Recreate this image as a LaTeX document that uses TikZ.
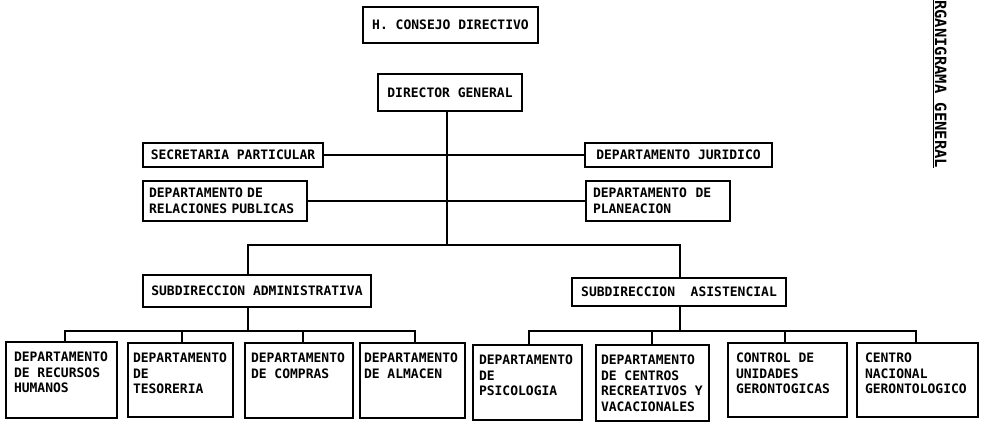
\documentclass[tikz,border=0pt]{standalone}
\usepackage{fontspec}
\setmonofont{DejaVu Sans Mono}
\newcommand\orgtxt{\ttfamily\bfseries\fontsize{13}{15.5}\selectfont}
\newcommand\orgtitle{\ttfamily\bfseries\fontsize{15.5}{18}\selectfont}
\newcommand\lowbox[3]{\parbox[c][#2][t]{#1}{\raggedright #3}}
\tikzset{
  orgbox/.style={draw, line width=1.6pt, inner sep=0pt, font=\orgtxt},
  link/.style={line width=1.5pt},
}
\begin{document}
\begin{tikzpicture}[x=1pt,y=-1pt]
\fill[white] (0,0) rectangle (984,423);
\useasboundingbox (0,0) rectangle (984,423);

% top
\node[orgbox, minimum width=175pt, minimum height=36pt] (consejo) at (450.5,25) {H. CONSEJO DIRECTIVO};
\node[orgbox, minimum width=144pt, minimum height=37pt] (director) at (450,92.5) {DIRECTOR GENERAL};

% staff
\node[orgbox, minimum width=180pt, minimum height=24pt] (secretaria) at (233,155) {SECRETARIA PARTICULAR};
\node[orgbox, minimum width=187pt, minimum height=24pt] (juridico) at (678.5,155) {DEPARTAMENTO JURIDICO};
\node[orgbox, minimum width=164pt, minimum height=40pt, text width=152pt, align=left] (relaciones) at (225,201) {DEPARTAMENTO DE\\RELACIONES PUBLICAS};
\node[orgbox, minimum width=144pt, minimum height=40pt, text width=130pt, align=left] (planeacion) at (658,201) {DEPARTAMENTO\ \ DE\\PLANEACION};

% subdirecciones
\node[orgbox, minimum width=228pt, minimum height=32pt] (subadm) at (257,291) {SUBDIRECCION ADMINISTRATIVA};
\node[orgbox, minimum width=214pt, minimum height=28pt] (subasi) at (679,292) {SUBDIRECCION\ \ ASISTENCIAL};

% departments
\node[orgbox, minimum width=111pt, minimum height=76pt] (rh) at (61.5,380) {\lowbox{95pt}{56pt}{DEPARTAMENTO\\DE RECURSOS\\HUMANOS}};
\node[orgbox, minimum width=105pt, minimum height=74pt] (teso) at (180.5,380) {\lowbox{95pt}{54pt}{DEPARTAMENTO\\DE\\TESORERIA}};
\node[orgbox, minimum width=108pt, minimum height=75pt] (compras) at (299,380.5) {\lowbox{96pt}{55pt}{DEPARTAMENTO\\DE COMPRAS}};
\node[orgbox, minimum width=105pt, minimum height=75pt] (almacen) at (412.5,380.5) {\lowbox{97pt}{55pt}{DEPARTAMENTO\\DE ALMACEN}};
\node[orgbox, minimum width=109pt, minimum height=75pt] (psico) at (527.5,382.5) {\lowbox{97pt}{55pt}{DEPARTAMENTO\\DE\\PSICOLOGIA}};
\node[orgbox, minimum width=113pt, minimum height=76pt] (centros) at (652.5,383) {\lowbox{103pt}{56pt}{DEPARTAMENTO\\DE CENTROS\\RECREATIVOS Y\\VACACIONALES}};
\node[orgbox, minimum width=119pt, minimum height=74pt] (control) at (787.5,380) {\lowbox{103pt}{54pt}{CONTROL DE\\UNIDADES\\GERONTOGICAS}};
\node[orgbox, minimum width=121pt, minimum height=74pt] (nacional) at (917.5,380) {\lowbox{105pt}{54pt}{CENTRO\\NACIONAL\\GERONTOLOGICO}};

% title
\node[rotate=-90, anchor=base, inner sep=0pt, font=\orgtitle] (title) at (935,79.5) {\underline{ORGANIGRAMA GENERAL}};

% connectors
\coordinate (hub) at (447,245);
\coordinate (la) at (248,245);
\coordinate (ra) at (680,245);
\coordinate (lb) at (248,331);
\coordinate (rb) at (680,331);
\coordinate (d1) at (65,331);
\coordinate (d2) at (182,331);
\coordinate (d3) at (303,331);
\coordinate (d4) at (415,331);
\coordinate (d5) at (529,331);
\coordinate (d6) at (652,331);
\coordinate (d7) at (785,331);
\coordinate (d8) at (916,331);

\draw[link] (director.south -| hub) -- (hub);
\draw[link] (secretaria.east) -- (juridico.west);
\draw[link] (relaciones.east) -- (planeacion.west);
\draw[link] (subadm.north -| la) -- (la) -- (ra) -- (subasi.north -| ra);
\draw[link] (subadm.south -| lb) -- (lb);
\draw[link] (subasi.south -| rb) -- (rb);
\draw[link] (rh.north -| d1) -- (d1) -- (d4) -- (almacen.north -| d4);
\draw[link] (d2) -- (teso.north -| d2);
\draw[link] (d3) -- (compras.north -| d3);
\draw[link] (psico.north -| d5) -- (d5) -- (d8) -- (nacional.north -| d8);
\draw[link] (d6) -- (centros.north -| d6);
\draw[link] (d7) -- (control.north -| d7);
\end{tikzpicture}
\end{document}
